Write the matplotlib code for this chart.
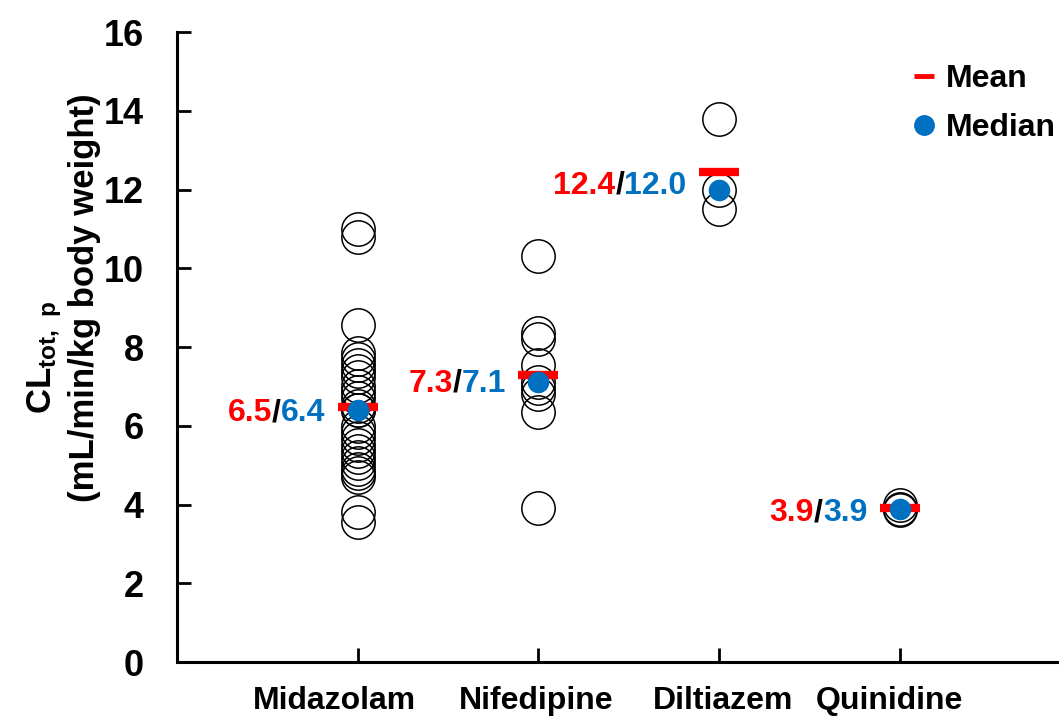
import matplotlib
matplotlib.use('Agg')
import matplotlib.pyplot as plt
import matplotlib.transforms as mtransforms
import numpy as np
from matplotlib.lines import Line2D
from matplotlib.offsetbox import TextArea, HPacker, AnnotationBbox

plt.rcParams['font.family'] = ['Liberation Sans', 'DejaVu Sans']
plt.rcParams['font.weight'] = 'bold'
plt.rcParams['mathtext.fontset'] = 'custom'
plt.rcParams['mathtext.bf'] = 'Liberation Sans:bold'
plt.rcParams['mathtext.rm'] = 'Liberation Sans:bold'

drugs = ['Midazolam', 'Nifedipine', 'Diltiazem', 'Quinidine']

midazolam = [11.0, 10.8, 8.55, 7.85, 7.7, 7.55, 7.4, 7.25, 7.0, 6.85, 6.7,
             6.5, 6.4, 6.4, 6.0, 5.85, 5.7, 5.5, 5.35, 5.2, 5.05, 4.9, 4.8,
             4.7, 3.8, 3.55]
nifedipine = [10.3, 8.35, 8.2, 7.55, 7.1, 6.95, 6.8, 6.35, 3.9]
diltiazem = [13.8, 12.0, 11.5]
quinidine = [4.0, 3.88, 3.85]

groups = [midazolam, nifedipine, diltiazem, quinidine]

RED = '#FF0000'
BLUE = '#0070C0'

fig = plt.figure(figsize=(10.59, 7.16), dpi=100)
ax = fig.add_axes([0.167, 0.0754, 0.833, 0.8799])

for i, vals in enumerate(groups):
    xpos = i + 1
    vals = np.array(vals)
    ax.plot(np.full(len(vals), xpos), vals, linestyle='none', marker='o',
            markersize=24, markerfacecolor='none', markeredgecolor='black',
            markeredgewidth=1.1, zorder=2)
    mean = vals.mean()
    med = np.median(vals)
    ax.plot([xpos], [mean], linestyle='none', marker='_', markersize=29,
            markeredgewidth=6, color=RED, zorder=3)
    ax.plot([xpos], [med], linestyle='none', marker='o', markersize=14.5,
            markerfacecolor=BLUE, markeredgecolor=BLUE, zorder=4)

    # mean/median label, two colours
    tp = dict(fontsize=23, fontweight='bold')
    parts = [TextArea('%.1f' % mean, textprops=dict(color=RED, **tp)),
             TextArea('/', textprops=dict(color='black', **tp)),
             TextArea('%.1f' % med, textprops=dict(color=BLUE, **tp))]
    box = HPacker(children=parts, align='center', pad=0, sep=0)
    ab = AnnotationBbox(box, (xpos - 0.18, (mean + med) / 2 - 0.12),
                        box_alignment=(1, 0.5), frameon=False, pad=0)
    ax.add_artist(ab)

ax.set_xlim(0, 4.88)
ax.set_ylim(0, 16)
ax.set_yticks(np.arange(0, 17, 2))
ax.set_xticks(range(1, 5))
ax.set_xticklabels(drugs)
ax.tick_params(axis='y', direction='in', length=10, width=2, labelsize=26, pad=24)
ax.tick_params(axis='x', direction='in', length=10, width=2, labelsize=23, pad=17)
for lab in ax.get_xticklabels() + ax.get_yticklabels():
    lab.set_fontweight('bold')

# category names sit slightly off their ticks
for lab, dx in zip(ax.get_xticklabels(), [-23, -2, 4, -10]):
    lab.set_transform(lab.get_transform() +
                      mtransforms.ScaledTranslation(dx / 100, 0, fig.dpi_scale_trans))

ax.spines['top'].set_visible(False)
ax.spines['right'].set_visible(False)
ax.spines['left'].set_linewidth(2.2)
ax.spines['bottom'].set_linewidth(2.2)

# y axis title, two lines
fig.text(45 / 1059, 1 - 357 / 716, r'$\mathbf{CL_{tot,\ p}}$', rotation=90,
         fontsize=25, fontweight='bold', ha='center', va='center')
fig.text(85 / 1059, 1 - 298 / 716, '(mL/min/kg body weight)', rotation=90,
         fontsize=25, fontweight='bold', ha='center', va='center')

handles = [Line2D([], [], linestyle='none', marker='_', markersize=15,
                  markeredgewidth=3.5, color=RED),
           Line2D([], [], linestyle='none', marker='o', markersize=14,
                  markerfacecolor=BLUE, markeredgecolor=BLUE)]
ax.legend(handles, ['Mean', 'Median'], loc='upper right', frameon=False,
          prop=dict(weight='bold', size=23), handlelength=0.9,
          handletextpad=0.25, labelspacing=0.6, borderaxespad=0.1,
          bbox_to_anchor=(1.015, 0.975))

fig.savefig('out.png', dpi=100)
